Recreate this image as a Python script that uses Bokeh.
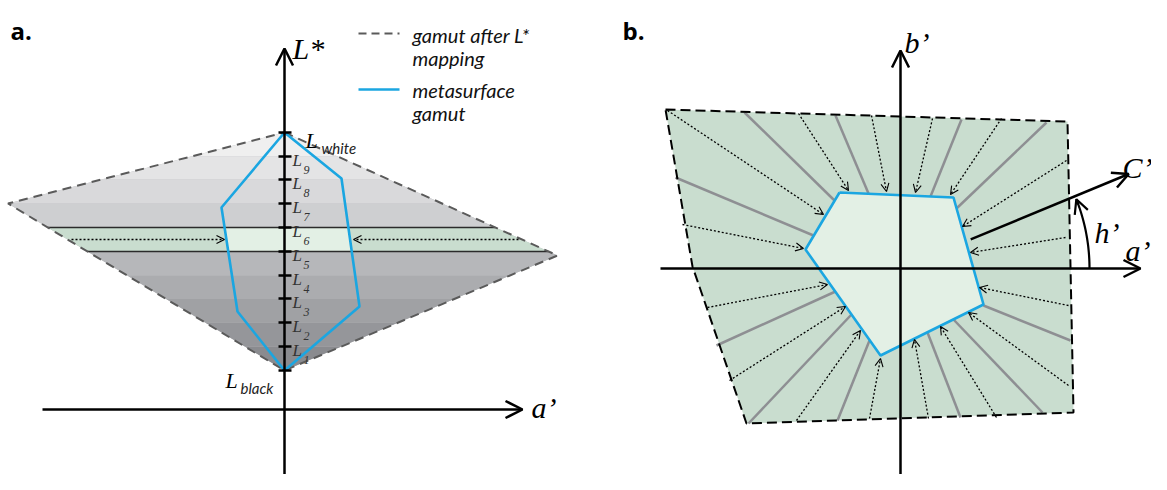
import numpy as np
from bokeh.plotting import figure
from bokeh.models import Range1d, Arrow, OpenHead
from bokeh.core.properties import value
from bokeh.embed import file_html
from bokeh.resources import INLINE

# ---------------- data (diagram coordinates, y grows downward) ----------------
# panel a: gamut after L* mapping (diamond): top, right, bottom, left
diamond_x = [284, 557, 284, 7.5]
diamond_y = [132, 255, 370, 203]
# lightness levels (black ... white)
L_levels = [370, 346, 322, 298, 275, 251, 227, 203, 179, 156, 132]
L_names = ["black", "1", "2", "3", "4", "5", "6", "7", "8", "9", "white"]
# band fill colours from L_black upward (index 5 is the highlighted L5-L6 slice)
band_colors = ["#8a8b8f", "#95969a", "#a0a1a4", "#abacaf", "#b6b7ba",
               None, "#cecfd1", "#d9d9db", "#e4e4e5", "#efefef"]
highlight_band = 5
# metasurface gamut (panel a)
meta_x = [284, 341, 359, 284, 237, 221]
meta_y = [132, 178, 306, 370, 311, 207]
# dotted mapping arrows in the highlighted slice
slice_arrow_x0 = [71, 518]
slice_arrow_x1 = [224, 353]
slice_arrow_y = 239

# panel b: outer gamut and metasurface gamut (pentagon)
outer_x = [665, 1067, 1073, 746, 692]
outer_y = [109, 121, 412, 423, 266]
penta_x = [839, 953, 983, 880, 805]
penta_y = [192, 197, 304, 355, 249]
# grey constant-hue lines
grey_x0 = [744, 835, 961, 1046, 1070, 1042, 960, 837, 748, 716, 675]
grey_y0 = [112, 115, 119, 122, 340, 412, 417, 420, 423, 345, 177]
grey_x1 = [834, 868, 930, 956, 983, 953, 927, 869, 851, 835, 813]
grey_y1 = [200, 193, 196, 208, 305, 319, 332, 340, 314, 291, 235]
# dotted mapping arrows
dot_x0 = [667, 798, 871, 932, 1001, 1066, 1065, 1068, 1068, 996, 928, 869, 796, 729, 707, 682]
dot_y0 = [110, 113, 115, 118, 118, 160, 237, 305, 385, 417, 418, 418, 420, 380, 307, 224]
dot_x1 = [823, 848, 886, 915, 950, 962, 970, 979, 968, 940, 914, 880, 860, 845, 827, 803]
dot_y1 = [214, 190, 191, 192, 194, 226, 252, 287, 312, 326, 339, 358, 330, 306, 284, 248]
origin_b = (900, 268)
hue_angle_deg = 22.5

BLUE = "#1ba6e1"
GREEN_OUT = "#c9ddcf"
GREEN_IN = "#e3f0e5"

# ---------------- helpers ----------------
def clip_strip(xs, ys, ylo, yhi):
    pts = list(zip(xs, ys))

    def clip(pts, keep, yc):
        out = []
        for i in range(len(pts)):
            cur, prev = pts[i], pts[i - 1]
            def inter(a, b):
                t = (yc - a[1]) / (b[1] - a[1])
                return (a[0] + t * (b[0] - a[0]), yc)
            if keep(cur):
                if not keep(prev):
                    out.append(inter(prev, cur))
                out.append(cur)
            elif keep(prev):
                out.append(inter(prev, cur))
        return out

    pts = clip(pts, lambda q: q[1] >= ylo, ylo)
    pts = clip(pts, lambda q: q[1] <= yhi, yhi)
    return [q[0] for q in pts], [q[1] for q in pts]


def span_at(xs, ys, yc):
    hits = []
    n = len(xs)
    for i in range(n):
        x0, y0, x1, y1 = xs[i - 1], ys[i - 1], xs[i], ys[i]
        if (y0 - yc) * (y1 - yc) <= 0 and y0 != y1:
            t = (yc - y0) / (y1 - y0)
            hits.append(x0 + t * (x1 - x0))
    return min(hits), max(hits)


p = figure(width=1151, height=474, x_range=Range1d(0, 1151), y_range=Range1d(474, 0),
           output_backend="svg", toolbar_location=None,
           x_axis_location=None, y_axis_location=None, min_border=0)
p.outline_line_color = None
p.background_fill_color = "white"
p.xgrid.visible = False
p.ygrid.visible = False
p.grid.grid_line_color = None


def txt(x, y, s, size, font, style="italic", color="black", align="left", baseline="alphabetic"):
    p.text(x=[x], y=[y], text=[s], text_font=value(font), text_font_size=f"{size}px",
           text_font_style=style, text_color=color, text_align=align, text_baseline=baseline)


def arrow(x0, y0, x1, y1, width=2.5, head=17, color="black", dash="solid", head_w=None):
    p.add_layout(Arrow(end=OpenHead(size=head, line_width=head_w or width, line_color=color),
                       x_start=x0, y_start=y0, x_end=x1, y_end=y1,
                       line_width=width, line_color=color, line_dash=dash))

# ================= panel a =================
p.patch(diamond_x, diamond_y, fill_color=band_colors[4], line_color=None)
for i in range(len(L_levels) - 1):
    ylo, yhi = L_levels[i + 1], L_levels[i]
    bx, by = clip_strip(diamond_x, diamond_y, ylo, yhi)
    if i == highlight_band:
        p.patch(bx, by, fill_color=GREEN_OUT, line_color=None)
        mx, my = clip_strip(meta_x, meta_y, ylo, yhi)
        p.patch(mx, my, fill_color=GREEN_IN, line_color=None)
    else:
        p.patch(bx, by, fill_color=band_colors[i], line_color=None)

for yc in (L_levels[highlight_band], L_levels[highlight_band + 1]):
    a0, a1 = span_at(diamond_x, diamond_y, yc)
    p.line([a0, a1], [yc, yc], line_color="#2b2b2b", line_width=1.6)

for x0, x1 in zip(slice_arrow_x0, slice_arrow_x1):
    arrow(x0, slice_arrow_y, x1, slice_arrow_y, width=1.3, head=8, dash="2 2", head_w=1.1)

p.line(diamond_x + diamond_x[:1], diamond_y + diamond_y[:1], line_color="#5a5a5a",
       line_width=2, line_dash="9 6")
p.line(meta_x + meta_x[:1], meta_y + meta_y[:1], line_color=BLUE, line_width=2.6)

# axes
arrow(284, 495, 284, 48)
arrow(42, 409, 522, 409)
# level ticks
p.segment(x0=[278] * len(L_levels), x1=[291] * len(L_levels), y0=L_levels, y1=L_levels,
          line_color="black", line_width=2.5)

# labels
for lv, nm in zip(L_levels, L_names):
    if nm == "white":
        txt(305, lv + 8, "L", 22, "Liberation Serif")
        txt(321, lv + 15, "white", 15, "Lato", color="#222")
    elif nm == "black":
        txt(225, lv + 10, "L", 22, "Liberation Serif")
        txt(240, lv + 17, "black", 15, "Lato", color="#222")
    else:
        txt(292, lv + 4, "L", 17, "Liberation Serif", color="#333")
        txt(303, lv + 13, nm, 12, "Liberation Serif", color="#333")

txt(292, 48, "L*", 30, "Liberation Serif")
txt(531, 407, "a’", 30, "Liberation Serif")
txt(10, 30, "a.", 24, "Open Sans", style="bold")

# legend
p.line([358, 399], [33, 33], line_color="#5a5a5a", line_width=2, line_dash="8 5")
p.line([358, 399], [89, 89], line_color=BLUE, line_width=2.6)
txt(412, 34, "gamut after L*", 20, "Lato", baseline="middle", color="#111")
txt(412, 57, "mapping", 20, "Lato", baseline="middle", color="#111")
txt(412, 89, "metasurface", 20, "Lato", baseline="middle", color="#111")
txt(412, 112, "gamut", 20, "Lato", baseline="middle", color="#111")

# ================= panel b =================
p.patch(outer_x, outer_y, fill_color=GREEN_OUT, line_color=None)
p.patch(penta_x, penta_y, fill_color=GREEN_IN, line_color=None)
p.segment(x0=grey_x0, y0=grey_y0, x1=grey_x1, y1=grey_y1, line_color="#8e8f93", line_width=2.5)
for x0, y0, x1, y1 in zip(dot_x0, dot_y0, dot_x1, dot_y1):
    arrow(x0, y0, x1, y1, width=1.3, head=8, dash="2 2", head_w=1.1)
p.line(outer_x + outer_x[:1], outer_y + outer_y[:1], line_color="black", line_width=2,
       line_dash="10 5")
p.line(penta_x + penta_x[:1], penta_y + penta_y[:1], line_color=BLUE, line_width=2.6)

ox, oy = origin_b
arrow(660, oy, 1140, oy)
arrow(ox, 495, ox, 50)
th = np.radians(hue_angle_deg)
c_start = 76
arrow(ox + c_start * np.cos(th), oy - c_start * np.sin(th),
      ox + 247 * np.cos(th), oy - 247 * np.sin(th), head=16)
r = 189
t = np.linspace(0, np.radians(21.5), 40)
p.line(ox + r * np.cos(t), oy - r * np.sin(t), line_color="black", line_width=2.2)
arrow(ox + r * np.cos(t[-4]), oy - r * np.sin(t[-4]), ox + r * np.cos(t[-1]), oy - r * np.sin(t[-1]),
      width=2.2, head=14)

txt(904, 42, "b’", 30, "Liberation Serif")
txt(1122, 167, "C’", 30, "Liberation Serif")
txt(1094, 232, "h’", 30, "Liberation Serif")
txt(1125, 250, "a’", 30, "Liberation Serif")
txt(622, 30, "b.", 24, "Open Sans", style="bold")

open("out.html", "w").write(file_html(p, INLINE))
